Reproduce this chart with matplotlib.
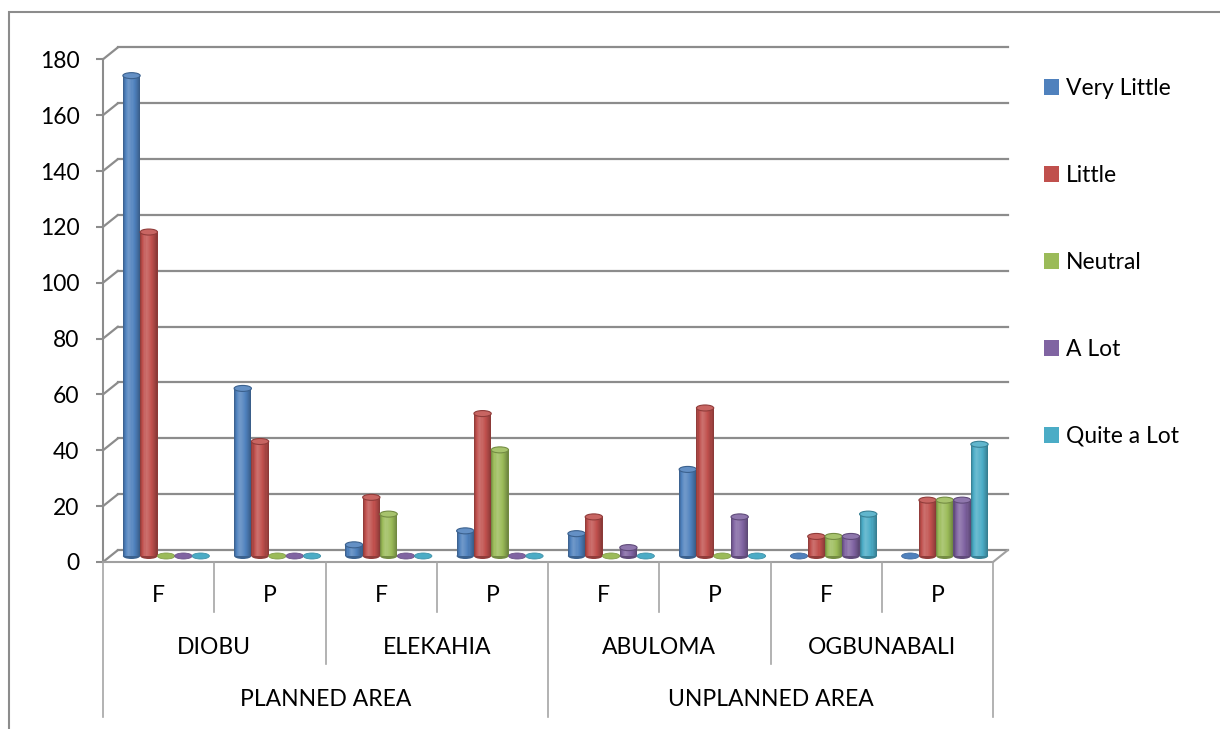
import matplotlib.pyplot as plt
import matplotlib.transforms as mtransforms
from matplotlib.patches import Ellipse, Patch, Rectangle, ConnectionPatch
import numpy as np

plt.rcParams['font.family'] = ['Lato', 'DejaVu Sans']

# survey responses per site and sub-group (F / P)
areas = ['PLANNED AREA', 'UNPLANNED AREA']
sites = ['DIOBU', 'ELEKAHIA', 'ABULOMA', 'OGBUNABALI']
subgroups = ['F', 'P']
levels = ['Very Little', 'Little', 'Neutral', 'A Lot', 'Quite a Lot']
very_little = [172, 60, 4, 9, 8, 31, 0, 0]
little = [116, 41, 21, 51, 14, 53, 7, 20]
neutral = [0, 0, 15, 38, 0, 0, 7, 20]
a_lot = [0, 0, 0, 0, 3, 14, 7, 20]
quite_a_lot = [0, 0, 0, 0, 0, 0, 15, 40]
series = [very_little, little, neutral, a_lot, quite_a_lot]
colors = ['#4F81BD', '#C0504D', '#9BBB59', '#8064A2', '#4BACC6']
yticks = list(range(0, 181, 20))

W, H, DPI = 1220, 729, 100
fig = plt.figure(figsize=(W / DPI, H / DPI), dpi=DPI)

# front plane of the plot area, in pixels
left_px, right_px = 103, 993
top_px, zero_px = 59.3, 562
bottom_px = 717
depth = (15, 12)            # back wall shift in pixels
grid_col = '#8c8c8c'

ax = fig.add_axes([left_px / W, 1 - zero_px / H,
                   (right_px - left_px) / W, (zero_px - top_px) / H])
n = len(very_little)
ax.set_xlim(0, n)
ax.set_ylim(0, 180)
ax.patch.set_visible(False)
for side in ['top', 'right', 'bottom']:
    ax.spines[side].set_visible(False)
ax.spines['left'].set_color(grid_col)
ax.spines['left'].set_linewidth(1.5)
ax.set_xticks([])
ax.set_yticks(yticks)
ax.tick_params(axis='y', direction='out', length=5, width=1.5,
               color=grid_col, pad=12, labelsize=16.5)

back = mtransforms.offset_copy(ax.transData, fig=fig, x=depth[0], y=depth[1], units='dots')
mid = mtransforms.offset_copy(ax.transData, fig=fig, x=depth[0] / 2, y=depth[1] / 2, units='dots')

# back wall gridlines and the short side-wall diagonals
for v in yticks:
    ax.plot([0, n], [v, v], transform=back, color=grid_col, lw=1.6, clip_on=False, zorder=1)
    ax.add_artist(ConnectionPatch((0, v), (0, v), coordsA=ax.transData, coordsB=back,
                                  color=grid_col, lw=1.6, zorder=1))
# floor edges
ax.plot([0, n], [0, 0], color='#a0a0a0', lw=1.5, clip_on=False, zorder=1)
ax.add_artist(ConnectionPatch((n, 0), (n, 0), coordsA=ax.transData, coordsB=back,
                              color='#a0a0a0', lw=1.5, zorder=1))

# cylinder bars
px_per_unit = (zero_px - top_px) / 180
bw = 17.3 / ((right_px - left_px) / n)
eh = 6 / px_per_unit
nstrip = 16
t = (np.arange(nstrip) + 0.5) / nstrip


def shade(c, k):
    rgb = np.array(plt.matplotlib.colors.to_rgb(c))
    if k >= 0:
        return tuple(rgb + (1 - rgb) * k)
    return tuple(rgb * (1 + k))


profile = np.where(t < 0.35, -0.30 * ((0.35 - t) / 0.35) ** 2 + 0.18 * (t / 0.35),
                   0.18 * (1 - (t - 0.35) / 0.65) ** 1.5 - 0.30 * ((t - 0.35) / 0.65) ** 2)

for i, (vals, c) in enumerate(zip(series, colors)):
    for j, v in enumerate(vals):
        cx = j + 0.5 + (i - 2) * bw
        z = 3 + j * 10 + i
        if v == 0:
            ax.add_patch(Ellipse((cx, 0), bw, eh, facecolor=c, edgecolor=shade(c, -0.15),
                                 lw=0.6, transform=mid, zorder=z))
            continue
        ax.add_patch(Ellipse((cx, 0), bw, eh, facecolor=shade(c, -0.25), edgecolor='none',
                             transform=mid, zorder=z))
        xs = cx - bw / 2 + t * bw
        for k in range(nstrip):
            ax.bar(xs[k], v, width=bw / nstrip * 1.08, color=shade(c, profile[k]),
                   linewidth=0, transform=mid, zorder=z + 0.1)
        ax.add_patch(Ellipse((cx, v), bw, eh, facecolor=shade(c, 0.12),
                             edgecolor=shade(c, -0.25), lw=0.8, transform=mid, zorder=z + 0.2))

# multi-level category axis
cax = fig.add_axes([left_px / W, 1 - bottom_px / H,
                    (right_px - left_px) / W, (bottom_px - zero_px) / H])
cax.set_xlim(0, n)
cax.set_ylim(bottom_px - zero_px, 0)
cax.axis('off')
sep_col = '#a6a6a6'
for j in range(n + 1):
    if j % 4 == 0:
        length = 155
    elif j % 2 == 0:
        length = 102
    else:
        length = 50
    cax.plot([j, j], [0, length], color=sep_col, lw=1.2, clip_on=False)
lab_size = 16.5
for j in range(n):
    cax.text(j + 0.5, 33, subgroups[j % 2], ha='center', va='center', fontsize=lab_size)
for k, s in enumerate(sites):
    cax.text(2 * k + 1, 86, s, ha='center', va='center', fontsize=lab_size)
for m, a in enumerate(areas):
    cax.text(4 * m + 2, 137, a, ha='center', va='center', fontsize=lab_size)

# legend
handles = [Patch(facecolor=c, edgecolor='none') for c in colors]
fig.legend(handles, levels, loc='upper left', bbox_to_anchor=(1044 / W, 1 - 78 / H),
           frameon=False, fontsize=16.5, handlelength=0.65, handleheight=0.65,
           handletextpad=0.3, labelspacing=2.88, borderpad=0, borderaxespad=0)

# chart area border
fig.add_artist(Rectangle((9 / W, -0.1), 1.2, 1.1 - 12 / H, transform=fig.transFigure,
                         fill=False, edgecolor=grid_col, lw=1.5))

fig.savefig('out.png', dpi=DPI)
